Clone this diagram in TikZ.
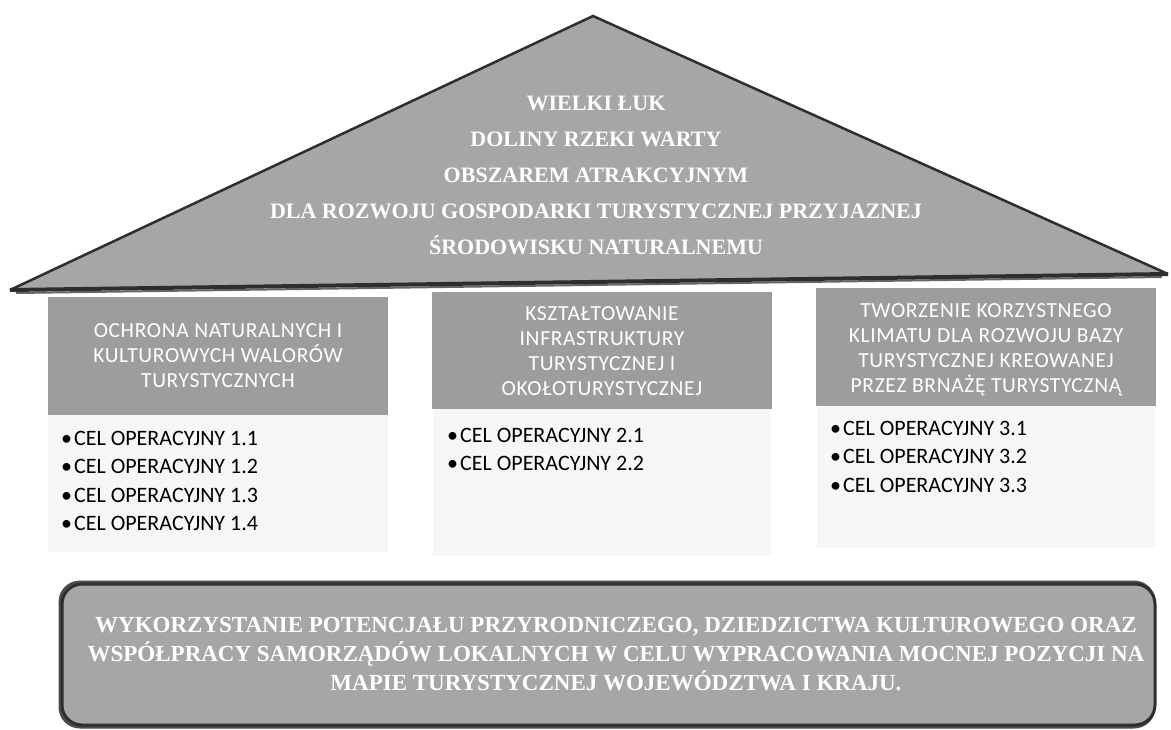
\documentclass[tikz,border=0pt]{standalone}
\usepackage{fontspec}
\setmainfont{Carlito}
\newfontfamily\boxfont{Carlito}[LetterSpace=3]
\newfontfamily\headfont{Liberation Serif}
\definecolor{roof}{HTML}{A6A6A6}
\definecolor{pillar}{HTML}{9D9D9D}
\definecolor{edgec}{HTML}{2E2E2E}
\definecolor{stipple}{HTML}{F6F6F6}
\begin{document}
\begin{tikzpicture}[x=1pt,y=-1pt,
  pillarbox/.style={fill=pillar, draw=none, minimum width=340, minimum height=117, inner sep=0},
  boxtxt/.style={inner sep=0, text=white, align=center, font=\boxfont\fontsize{21.5}{25}\selectfont},
  listtxt/.style={anchor=north west, inner sep=0, align=left, text=black,
    font=\fontsize{22}{28.5}\selectfont},
  headtxt/.style={inner sep=0, align=center, text=white, font=\headfont\bfseries\fontsize{22}{36}\selectfont},
  basetxt/.style={inner sep=0, align=center, text=white, font=\headfont\bfseries\fontsize{23}{29}\selectfont}
]
\useasboundingbox (0,0) rectangle (1171,729);
% roof
\fill[roof] (10,290) -- (593,16) -- (1168,274) -- cycle;
\draw[edgec, line width=2.5, line join=miter] (10,290) -- (593,16) -- (1168,274);
\draw[black!60, line width=2] (16,293) -- (1162,277);
\draw[edgec, line width=4] (10,290) -- (1168,274);
\node[headtxt, anchor=north] (title) at (596,96)
  {WIELKI ŁUK\\DOLINY RZEKI WARTY\\OBSZAREM ATRAKCYJNYM\\DLA ROZWOJU GOSPODARKI TURYSTYCZNEJ PRZYJAZNEJ\\ŚRODOWISKU NATURALNEMU};
% stipple areas
\fill[stipple] (48,415) rectangle (388,552);
\fill[stipple] (433,409) rectangle (771,556);
\fill[stipple] (817,406) rectangle (1155,548);
% pillars
\node[pillarbox, minimum height=118] (p1) at (218,356) {};
\node[pillarbox] (p2) at (602,350.5) {};
\node[pillarbox, minimum height=118] (p3) at (986,347) {};
\node[boxtxt] (t1) at (218,356) {OCHRONA NATURALNYCH I\\KULTUROWYCH WALORÓW\\TURYSTYCZNYCH};
\node[boxtxt] (t2) at (602,351) {KSZTAŁTOWANIE\\INFRASTRUKTURY\\TURYSTYCZNEJ I\\OKOŁOTURYSTYCZNEJ};
\node[boxtxt] (t3) at (986,349.5) {TWORZENIE KORZYSTNEGO\\KLIMATU DLA ROZWOJU BAZY\\TURYSTYCZNEJ KREOWANEJ\\PRZEZ BRNAŻĘ TURYSTYCZNĄ};
% lists
\node[listtxt] (l1) at (61,431) {•\hspace{2pt}CEL OPERACYJNY 1.1\\•\hspace{2pt}CEL OPERACYJNY 1.2\\•\hspace{2pt}CEL OPERACYJNY 1.3\\•\hspace{2pt}CEL OPERACYJNY 1.4};
\node[listtxt] (l2) at (447,428) {•\hspace{2pt}CEL OPERACYJNY 2.1\\•\hspace{2pt}CEL OPERACYJNY 2.2};
\node[listtxt] (l3) at (830,421) {•\hspace{2pt}CEL OPERACYJNY 3.1\\•\hspace{2pt}CEL OPERACYJNY 3.2\\•\hspace{2pt}CEL OPERACYJNY 3.3};
% foundation
\draw[black!70, line width=3, rounded corners=20] (60,582) rectangle (1154,727);
\draw[edgec, line width=3, fill=roof, rounded corners=20] (62,584) rectangle (1155,725);
\node[basetxt, anchor=north] (found) at (616,617)
  {WYKORZYSTANIE POTENCJAŁU PRZYRODNICZEGO, DZIEDZICTWA KULTUROWEGO ORAZ\\WSPÓŁPRACY SAMORZĄDÓW LOKALNYCH W CELU WYPRACOWANIA MOCNEJ POZYCJI NA\\MAPIE TURYSTYCZNEJ WOJEWÓDZTWA I KRAJU.};
\end{tikzpicture}
\end{document}
